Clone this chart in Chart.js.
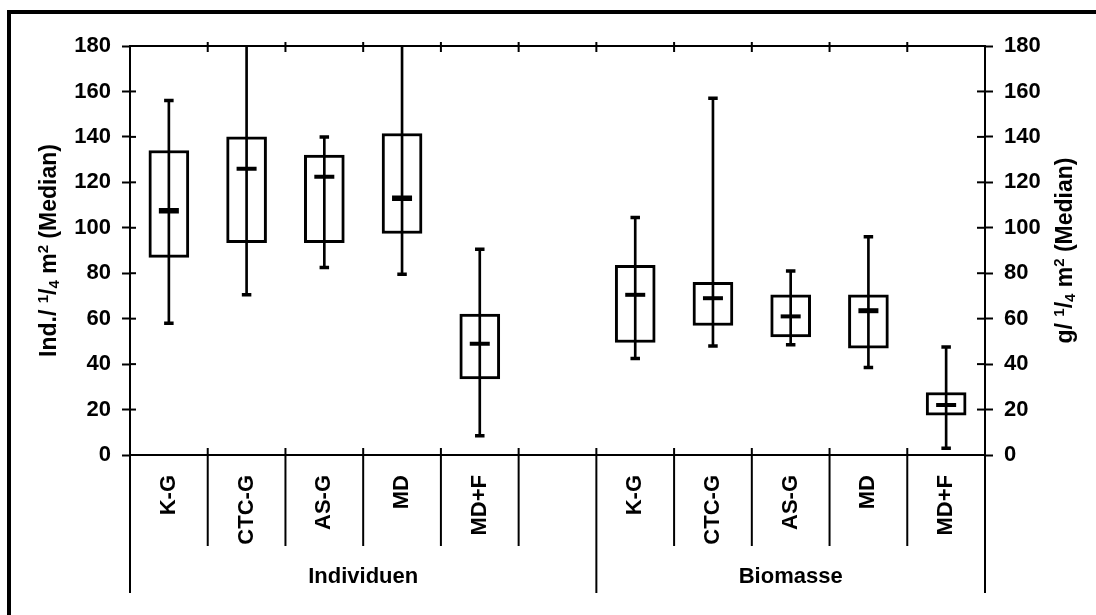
<!DOCTYPE html>
<html><head><meta charset="utf-8">
<script src="https://cdn.jsdelivr.net/npm/chart.js@4.4.1/dist/chart.umd.min.js"></script>
<style>html,body{margin:0;padding:0;background:#fff}canvas{display:block}</style>
</head><body>
<canvas id="c" width="1096" height="615"></canvas>
<script>
// ---------- data ----------
const methods = ['K-G', 'CTC-G', 'AS-G', 'MD', 'MD+F'];
const groupNames = ['Individuen', 'Biomasse'];
const tickValues = [0, 20, 40, 60, 80, 100, 120, 140, 160, 180];
const leftTitle = [['Ind./ '], ['1', 'sup'], ['/'], ['4', 'sub'], [' m'], ['2', 'sup'], [' (Median)']];
const rightTitle = [['g/ '], ['1', 'sup'], ['/'], ['4', 'sub'], [' m'], ['2', 'sup'], [' (Median)']];

// Individuen (Ind./ 1/4 m²)
const indMin    = [58,   70.5, 82.5, 79.5, 8.5];
const indQ1     = [87,   93.5, 93.5, 97.5, 33.5];
const indMedian = [107.5, 126, 122.5, 113, 49];
const indQ3     = [134,  140,  132,  141.5, 62];
const indMax    = [156,  190,  140,  190,  90.5];

// Biomasse (g/ 1/4 m²)
const bioMin    = [42.5, 48,   48.5, 38.5, 3];
const bioQ1     = [49.5, 57,   52,   47,   17.5];
const bioMedian = [70.5, 69,   61,   63.5, 22];
const bioQ3     = [83.5, 76,   70.5, 70.5, 27.5];
const bioMax    = [104.5, 157, 81,   96,   47.5];

// ---------- layout / style ----------
const GAP_SLOTS = 1;
const FONT = "'Liberation Sans', Arial, Helvetica, sans-serif";
const FS = 22;
const medianWidths = [[5.5, 4, 4, 5.5, 4], [4, 4, 4, 5, 4]];

const categories = [...methods, ...Array(GAP_SLOTS).fill(''), ...methods];
const groupStart = [0, methods.length + GAP_SLOTS];
const nCat = categories.length;

function place(arr, g) {
  const out = Array(nCat).fill(null);
  arr.forEach((v, i) => { out[groupStart[g] + i] = v; });
  return out;
}
const groupsData = [
  {min: indMin, q1: indQ1, med: indMedian, q3: indQ3, max: indMax, axis: 'y'},
  {min: bioMin, q1: bioQ1, med: bioMedian, q3: bioQ3, max: bioMax, axis: 'y2'}
];

const datasets = [];
groupsData.forEach((g, gi) => {
  datasets.push({
    type: 'bar', yAxisID: g.axis, grouped: false, order: 5,
    data: place(g.q1.map((v, i) => [v, g.q3[i]]), gi),
    backgroundColor: '#ffffff', borderColor: '#000000', borderWidth: 3,
    borderSkipped: false, barThickness: 40
  });
  datasets.push({
    type: 'bar', yAxisID: g.axis, grouped: false, order: 4,
    data: place(g.min.map((v, i) => [v, g.max[i]]), gi),
    backgroundColor: '#000000', borderWidth: 0, barThickness: 2
  });
  [g.min, g.max].forEach(arr => datasets.push({
    type: 'line', yAxisID: g.axis, order: 2, showLine: false,
    data: place(arr, gi),
    pointStyle: 'line', pointRadius: 4.75, pointBorderWidth: 3.5,
    pointBorderColor: '#000', pointBackgroundColor: '#000'
  }));
  datasets.push({
    type: 'line', yAxisID: g.axis, order: 1, showLine: false,
    data: place(g.med, gi),
    pointStyle: 'line', pointRadius: 10,
    pointBorderWidth: place(medianWidths[gi], gi).map(v => v || 4),
    pointBorderColor: '#000', pointBackgroundColor: '#000'
  });
});

function yAxis(pos, w) {
  return {
    type: 'linear', position: pos, min: 0, max: 180,
    afterBuildTicks: s => { s.ticks = tickValues.map(v => ({value: v})); },
    afterFit: s => { s.width = w; },
    border: {display: true, color: '#000', width: 2},
    grid: {drawOnChartArea: false, color: '#000', tickLength: 8, tickWidth: 2, tickColor: '#000'},
    ticks: {color: '#000', padding: 11, font: {family: FONT, size: FS, weight: 'bold'}}
  };
}

function drawRich(ctx, segs, cx, cy, size) {
  ctx.save();
  ctx.translate(cx, cy);
  ctx.rotate(-Math.PI / 2);
  ctx.fillStyle = '#000';
  ctx.textBaseline = 'alphabetic';
  ctx.textAlign = 'left';
  const parts = segs.map(([t, k]) => {
    const s = k ? size * 0.65 : size;
    ctx.font = `bold ${s}px ${FONT}`;
    return {t, k, s, w: ctx.measureText(t).width};
  });
  const total = parts.reduce((a, p) => a + p.w, 0);
  let x = -total / 2;
  const base = size * 0.36;
  parts.forEach(p => {
    ctx.font = `bold ${p.s}px ${FONT}`;
    let dy = 0;
    if (p.k === 'sup') dy = -size * 0.36;
    if (p.k === 'sub') dy = size * 0.12;
    ctx.fillText(p.t, x, base + dy);
    x += p.w;
  });
  ctx.restore();
}

const decor = {
  id: 'decor',
  beforeDraw(chart) {
    const ctx = chart.ctx;
    ctx.save();
    ctx.fillStyle = '#fff';
    ctx.fillRect(0, 0, chart.width, chart.height);
    ctx.strokeStyle = '#000';
    ctx.lineWidth = 4;
    ctx.beginPath();
    ctx.moveTo(9, chart.height);
    ctx.lineTo(9, 12);
    ctx.lineTo(chart.width, 12);
    ctx.stroke();
    ctx.restore();
  },
  afterDraw(chart) {
    const {ctx, chartArea: a, scales} = chart;
    const yl = scales.y, yr = scales.y2;
    const slot = (a.right - a.left) / nCat;
    const edge = i => a.left + i * slot;
    const L = (x1, y1, x2, y2) => { ctx.beginPath(); ctx.moveTo(x1, y1); ctx.lineTo(x2, y2); ctx.stroke(); };
    ctx.save();
    ctx.strokeStyle = '#000';
    ctx.lineWidth = 2;
    L(a.left, a.top, a.right, a.top);
    const groupEdges = [0, groupStart[1], nCat];
    for (let i = 0; i <= nCat; i++) {
      const bx = edge(i);
      if (i > 0 && i < nCat) L(bx, a.top - 4, bx, a.top + 6);
      if (groupEdges.includes(i)) L(bx, a.bottom - (i > 0 && i < nCat ? 7 : 0), bx, 593);
      else L(bx, a.bottom - 7, bx, 546);
    }
    tickValues.forEach(v => {
      const y = yl.getPixelForValue(v);
      L(a.left, y, a.left + 6, y);
      const y2 = yr.getPixelForValue(v);
      L(a.right - 8, y2, a.right, y2);
    });
    ctx.fillStyle = '#000';
    ctx.font = `bold ${FS}px ${FONT}`;
    ctx.textAlign = 'center';
    ctx.textBaseline = 'middle';
    const spans = [[0, groupStart[1]], [groupStart[1], nCat]];
    groupNames.forEach((g, i) => {
      const cx = (edge(spans[i][0]) + edge(spans[i][1])) / 2;
      ctx.fillText(g, cx, 577);
    });
    ctx.restore();
    drawRich(ctx, leftTitle, 48, (a.top + a.bottom) / 2, 23);
    drawRich(ctx, rightTitle, 1064, (a.top + a.bottom) / 2, 23);
  }
};

new Chart(document.getElementById('c'), {
  type: 'bar',
  data: {labels: categories, datasets},
  plugins: [decor],
  options: {
    responsive: false, animation: false, devicePixelRatio: 1, events: [],
    layout: {padding: {left: 0, right: 0, top: 46, bottom: 0}},
    plugins: {legend: {display: false}, tooltip: {enabled: false}},
    scales: {
      x: {
        type: 'category', position: 'bottom', offset: true,
        afterFit: s => { s.height = 160; },
        border: {display: true, color: '#000', width: 2},
        grid: {display: false, drawTicks: false},
        ticks: {color: '#000', autoSkip: false, minRotation: 90, maxRotation: 90, padding: 20,
                font: {family: FONT, size: FS, weight: 'bold'}}
      },
      y: yAxis('left', 130),
      y2: yAxis('right', 111)
    }
  }
});
</script>
</body></html>
